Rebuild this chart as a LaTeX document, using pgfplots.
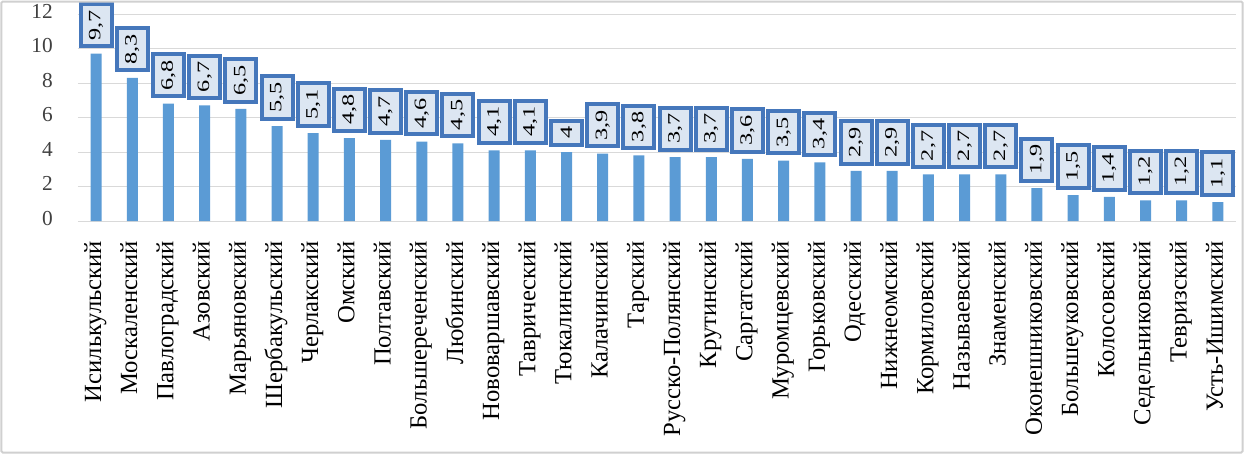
\documentclass[border=0pt]{standalone}
\usepackage{pgfplots}
\pgfplotsset{compat=1.18}
\usepackage{pgfplotstable}
\usepackage{graphicx}
\usepackage{fontspec}
\setmainfont{Liberation Serif}
\definecolor{barc}{HTML}{5B9BD5}
\definecolor{boxb}{HTML}{4577BB}
\definecolor{boxf}{HTML}{DCE6F2}
\definecolor{gridc}{HTML}{D9D9D9}
\definecolor{framec}{HTML}{D0D0D0}
\definecolor{ytxt}{HTML}{404040}

\pgfplotstableread{
x y
0 9.7
1 8.3
2 6.8
3 6.7
4 6.5
5 5.5
6 5.1
7 4.8
8 4.7
9 4.6
10 4.5
11 4.1
12 4.1
13 4
14 3.9
15 3.8
16 3.7
17 3.7
18 3.6
19 3.5
20 3.4
21 2.9
22 2.9
23 2.7
24 2.7
25 2.7
26 1.9
27 1.5
28 1.4
29 1.2
30 1.2
31 1.1
}\datatable

\begin{document}
\begin{tikzpicture}
\begin{axis}[
  at={(0,0)}, anchor=south west,
  scale only axis,
  width=868.5pt, height=155.25pt,
  xmin=-0.5, xmax=31.5,
  ymin=0, ymax=12,
  enlargelimits=false,
  clip=false,
  axis line style={draw=none},
  tick style={draw=none},
  ymajorgrids,
  grid style={gridc, line width=0.75pt},
  ytick={0,2,...,12},
  xtick={0,...,31},
  xticklabels={Исилькульский,Москаленский,Павлоградский,Азовский,Марьяновский,Шербакульский,Черлакский,Омский,Полтавский,Большереченский,Любинский,Нововаршавский,Таврический,Тюкалинский,Калачинский,Тарский,Русско-Полянский,Крутинский,Саргатский,Муромцевский,Горьковский,Одесский,Нижнеомский,Кормиловский,Называевский,Знаменский,Оконешниковский,Большеуковский,Колосовский,Седельниковский,Тевризский,Усть-Ишимский},
  /pgf/number format/assume math mode=true,
  /pgf/number format/use comma,
  /pgf/number format/fixed,
  /pgf/number format/precision=1,
  yticklabel style={font=\fontsize{16}{16}\selectfont, text=ytxt, anchor=east, inner sep=0pt, xshift=-18.75pt},
  xticklabel style={font=\fontsize{18.5}{18.5}\selectfont, text=black, rotate=90, anchor=east, inner sep=0pt, xshift=-10.5pt},
  typeset ticklabels with strut,
  ybar, bar width=8.25pt,
  nodes near coords={\scalebox{1.4}[1]{\pgfmathprintnumber{\pgfplotspointmeta}}},
  nodes near coords style={font=\fontsize{13}{13}\selectfont, text=black,
    rotate=90, anchor=west, draw=boxb, line width=3pt, fill=boxf,
    minimum height=23.25pt, inner xsep=4.5pt, inner ysep=0pt, outer xsep=5.5pt, outer ysep=1.5pt},
]
\addplot[fill=barc, draw=none] table[x=x, y=y] {\datatable};
\end{axis}
\draw[framec, line width=1.5pt, rounded corners=1pt] (-57.375pt,-173.625pt) rectangle (873.375pt,164.625pt);
\pgfresetboundingbox
\path[use as bounding box] (-58.5pt,-174.75pt) rectangle (874.5pt,165.75pt);
\end{tikzpicture}
\end{document}
